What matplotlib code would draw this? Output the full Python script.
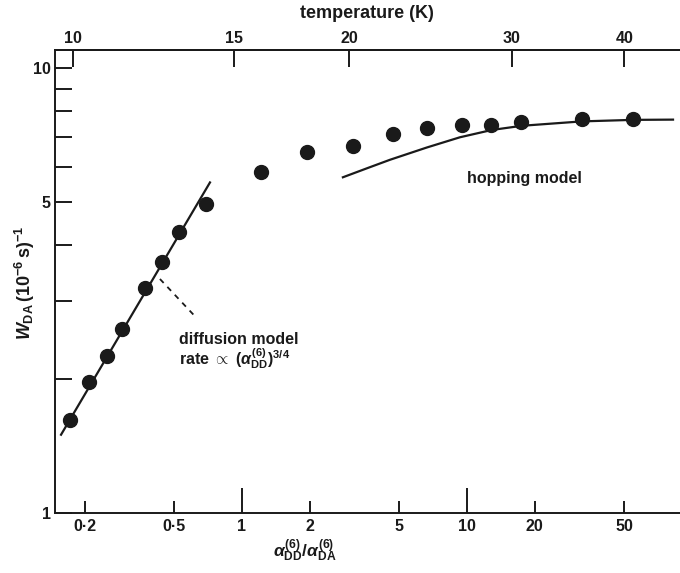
import matplotlib
matplotlib.use("Agg")
import matplotlib.pyplot as plt

plt.rcParams['font.family'] = ['Liberation Sans', 'DejaVu Sans']
plt.rcParams['font.weight'] = 'bold'
plt.rcParams['mathtext.fontset'] = 'custom'
plt.rcParams['mathtext.rm'] = 'Liberation Sans:bold'
plt.rcParams['mathtext.it'] = 'Liberation Sans:italic:bold'
plt.rcParams['mathtext.bf'] = 'Liberation Sans:bold'

# measured points (ratio alpha_DD/alpha_DA, W_DA in 1e-6 s^-1)
ratio = [0.172, 0.209, 0.251, 0.293, 0.371, 0.441, 0.525, 0.692, 1.21, 1.94,
         3.11, 4.69, 6.64, 9.5, 12.8, 17.4, 32.4, 54.7]
rate = [1.62, 1.97, 2.25, 2.60, 3.20, 3.66, 4.28, 4.95, 5.84, 6.48,
        6.68, 7.11, 7.33, 7.45, 7.45, 7.56, 7.68, 7.68]

# diffusion model line (endpoints)
diff_x = [0.157, 0.721]
diff_y = [1.50, 5.54]

# hopping model curve
hop_x = [2.81, 3.59, 4.55, 6.64, 9.31, 12.9, 17.6, 32.4, 54.7, 82.4]
hop_y = [5.69, 5.96, 6.23, 6.64, 7.00, 7.27, 7.43, 7.60, 7.66, 7.67]

# leader line for diffusion label
lead_x = [0.432, 0.631]
lead_y = [3.36, 2.74]

# ticks
x_major = [1, 10]
x_minor = [0.2, 0.5, 2, 5, 20, 50]
x_minor_labels = ['0·2', '0·5', '2', '5', '20', '50']
y_ticks = [1, 2, 3, 4, 5, 6, 7, 8, 9, 10]
y_labels = ['1', '', '', '', '5', '', '', '', '', '10']
temp_labels = ['10', '15', '20', '30', '40']
temp_pos = [0.177, 0.92, 3.0, 15.8, 50]

ink = '#1a1a1a'
fig = plt.figure(figsize=(6.8, 5.73), dpi=100)
ax = fig.add_axes([55/680, 1-513/573, 1-55/680, (513-50)/573])
ax.set_xscale('log')
ax.set_yscale('log')
ax.set_xlim(0.1476, 88.5)
ax.set_ylim(1, 11.0)

ax.plot(diff_x, diff_y, color=ink, lw=1.6)
ax.plot(hop_x, hop_y, color=ink, lw=1.6)
ax.plot(ratio, rate, 'o', color=ink, ms=10, mec=ink)
ax.plot(lead_x, lead_y, color=ink, lw=1.3, ls=(0, (3, 3)))

ax.spines['right'].set_visible(False)
for s in ['left', 'bottom', 'top']:
    ax.spines[s].set_linewidth(1.4)
    ax.spines[s].set_color(ink)

ax.set_xticks(x_major)
ax.set_xticklabels(['1', '10'])
ax.set_xticks(x_minor, minor=True)
ax.set_xticklabels(x_minor_labels, minor=True)
ax.tick_params(axis='x', which='major', direction='in', length=18, width=1.4,
               labelsize=11.5, pad=4, colors=ink, top=False)
ax.tick_params(axis='x', which='minor', direction='in', length=9, width=1.4,
               labelsize=11.5, pad=4, colors=ink, top=False)

ax.set_yticks(y_ticks)
ax.set_yticklabels(y_labels)
ax.yaxis.set_minor_locator(matplotlib.ticker.NullLocator())
ax.tick_params(axis='y', which='major', direction='in', length=12, width=1.4,
               labelsize=11.5, pad=3, colors=ink, right=False)

# top temperature axis
tax = ax.twiny()
tax.set_xscale('log')
tax.set_xlim(ax.get_xlim())
tax.set_xticks(temp_pos)
tax.set_xticklabels(temp_labels)
tax.xaxis.set_minor_locator(matplotlib.ticker.NullLocator())
tax.tick_params(axis='x', direction='in', length=12, width=1.4, labelsize=11.5,
                pad=3, colors=ink)
for s in ['right', 'left', 'bottom']:
    tax.spines[s].set_visible(False)
tax.spines['top'].set_linewidth(1.4)
tax.spines['top'].set_color(ink)

fig.text(367/680, 1-13/573, 'temperature (K)', ha='center', va='center',
         fontsize=13, color=ink)
fig.text(305/680, 1-551/573, r'$\alpha^{(6)}_{\rm DD}/\alpha^{(6)}_{\rm DA}$',
         ha='center', va='center', fontsize=12.5, color=ink)
fig.text(25/680, 1-283/573, r'$W_{\rm DA}\,(10^{-6}\,{\rm s})^{-1}$',
         ha='center', va='center', rotation=90, fontsize=13, color=ink)

ax.text(0.525, 2.46, 'diffusion model', fontsize=11.5, color=ink, va='center')
ax.text(0.525, 2.23, r'rate $\propto$ ($\alpha^{(6)}_{\rm DD}$)$^{3/4}$',
        fontsize=11.5, color=ink, va='center')
ax.text(10.0, 5.66, 'hopping model', fontsize=11.5, color=ink, va='center')

fig.savefig('out.png', dpi=100)
